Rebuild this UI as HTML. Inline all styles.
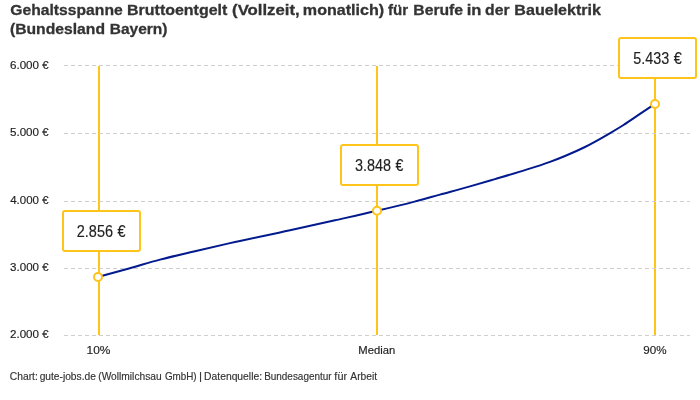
<!DOCTYPE html>
<html lang="de"><head><meta charset="utf-8"><title>Gehaltsspanne Bauelektrik Bayern</title>
<style>
html,body{margin:0;padding:0;background:#fff;}
body{width:700px;height:400px;overflow:hidden;font-family:"Liberation Sans",sans-serif;}
svg{display:block;font-family:"Liberation Sans",sans-serif;}
</style></head><body>
<svg width="700" height="400" viewBox="0 0 700 400">
<rect width="700" height="400" fill="#ffffff"/>
<line x1="99" x2="99" y1="66" y2="335" stroke="#ffc41a" stroke-width="2"/>
<line x1="377" x2="377" y1="66" y2="335" stroke="#ffc41a" stroke-width="2"/>
<line x1="655" x2="655" y1="66" y2="335" stroke="#ffc41a" stroke-width="2"/>
<line x1="64" x2="690" y1="65.5" y2="65.5" stroke="#cfcfcf" stroke-width="1" stroke-dasharray="4 3" shape-rendering="crispEdges"/>
<line x1="64" x2="690" y1="133.5" y2="133.5" stroke="#cfcfcf" stroke-width="1" stroke-dasharray="4 3" shape-rendering="crispEdges"/>
<line x1="64" x2="690" y1="201.5" y2="201.5" stroke="#cfcfcf" stroke-width="1" stroke-dasharray="4 3" shape-rendering="crispEdges"/>
<line x1="64" x2="690" y1="268.5" y2="268.5" stroke="#cfcfcf" stroke-width="1" stroke-dasharray="4 3" shape-rendering="crispEdges"/>
<line x1="64" x2="690" y1="335.5" y2="335.5" stroke="#cfcfcf" stroke-width="1" stroke-dasharray="4 3" shape-rendering="crispEdges"/>
<path d="M98.00,277.00C108.33,274.17 118.67,271.40 129.00,268.50C139.33,265.60 149.67,262.34 160.00,259.60C171.67,256.51 183.33,253.94 195.00,251.20C206.67,248.46 218.33,245.77 230.00,243.15C250.00,238.67 270.00,234.68 290.00,230.30C305.00,227.02 320.00,223.66 335.00,220.30C349.00,217.16 363.00,214.11 377.00,210.80C389.50,207.85 402.00,204.88 414.50,201.60C423.00,199.37 431.50,196.93 440.00,194.60C450.00,191.86 460.00,189.24 470.00,186.40C478.33,184.04 486.67,181.57 495.00,179.10C503.33,176.63 511.67,174.19 520.00,171.60C530.00,168.49 540.00,165.60 550.00,161.90C555.00,160.05 560.00,158.09 565.00,156.00C571.67,153.22 578.33,150.31 585.00,147.00C593.10,142.98 601.20,138.34 609.30,133.60C614.03,130.83 618.77,128.01 623.50,125.00C629.00,121.50 634.50,117.57 640.00,113.90C645.00,110.56 650.00,107.27 655.00,103.95" fill="none" stroke="#021a8e" stroke-width="2" stroke-linecap="butt" stroke-linejoin="round"/>
<circle cx="98" cy="277" r="4" fill="#fff" stroke="#ffc41a" stroke-width="2"/>
<circle cx="377" cy="210.8" r="4" fill="#fff" stroke="#ffc41a" stroke-width="2"/>
<circle cx="655" cy="103.95" r="4" fill="#fff" stroke="#ffc41a" stroke-width="2"/>
<rect x="63" y="211" width="77" height="40" rx="2" fill="#fff" stroke="#ffc41a" stroke-width="2"/>
<rect x="341" y="145" width="77" height="40" rx="2" fill="#fff" stroke="#ffc41a" stroke-width="2"/>
<rect x="619" y="38" width="77" height="40" rx="2" fill="#fff" stroke="#ffc41a" stroke-width="2"/>
<text y="14.6" font-size="15.4" font-weight="700" fill="#333333" stroke="#333333" stroke-width="0.3"><tspan x="10.26" textLength="112.44" lengthAdjust="spacingAndGlyphs">Gehaltsspanne</tspan> <tspan x="127.06" textLength="100.28" lengthAdjust="spacingAndGlyphs">Bruttoentgelt</tspan> <tspan x="232.08" textLength="67.62" lengthAdjust="spacingAndGlyphs">(Vollzeit,</tspan> <tspan x="302.86" textLength="81.29" lengthAdjust="spacingAndGlyphs">monatlich)</tspan> <tspan x="388.06" textLength="20.12" lengthAdjust="spacingAndGlyphs">für</tspan> <tspan x="413.28" textLength="49.83" lengthAdjust="spacingAndGlyphs">Berufe</tspan> <tspan x="466.69" textLength="14.72" lengthAdjust="spacingAndGlyphs">in</tspan> <tspan x="485.06" textLength="24.45" lengthAdjust="spacingAndGlyphs">der</tspan> <tspan x="514.36" textLength="86.63" lengthAdjust="spacingAndGlyphs">Bauelektrik</tspan></text>
<text y="33.6" font-size="15.4" font-weight="700" fill="#333333" stroke="#333333" stroke-width="0.3"><tspan x="9.94" textLength="95.04" lengthAdjust="spacingAndGlyphs">(Bundesland</tspan> <tspan x="109.69" textLength="57.83" lengthAdjust="spacingAndGlyphs">Bayern)</tspan></text>
<text y="69.2" font-size="10.8" fill="#222222" stroke="#222222" stroke-width="0.15"><tspan x="9.96" textLength="29.07" lengthAdjust="spacingAndGlyphs">6.000</tspan> <tspan x="42.27" textLength="6.38" lengthAdjust="spacingAndGlyphs">€</tspan></text>
<text y="136.3" font-size="10.8" fill="#222222" stroke="#222222" stroke-width="0.15"><tspan x="9.96" textLength="29.07" lengthAdjust="spacingAndGlyphs">5.000</tspan> <tspan x="42.27" textLength="6.38" lengthAdjust="spacingAndGlyphs">€</tspan></text>
<text y="204.2" font-size="10.8" fill="#222222" stroke="#222222" stroke-width="0.15"><tspan x="10.23" textLength="28.80" lengthAdjust="spacingAndGlyphs">4.000</tspan> <tspan x="42.27" textLength="6.38" lengthAdjust="spacingAndGlyphs">€</tspan></text>
<text y="271.2" font-size="10.8" fill="#222222" stroke="#222222" stroke-width="0.15"><tspan x="10.10" textLength="28.94" lengthAdjust="spacingAndGlyphs">3.000</tspan> <tspan x="42.27" textLength="6.38" lengthAdjust="spacingAndGlyphs">€</tspan></text>
<text y="338.2" font-size="10.8" fill="#222222" stroke="#222222" stroke-width="0.15"><tspan x="9.96" textLength="29.07" lengthAdjust="spacingAndGlyphs">2.000</tspan> <tspan x="42.27" textLength="6.38" lengthAdjust="spacingAndGlyphs">€</tspan></text>
<text y="236.9" font-size="16" fill="#222222" stroke="#222222" stroke-width="0.15"><tspan x="76.82" textLength="36.18" lengthAdjust="spacingAndGlyphs">2.856</tspan> <tspan x="117.39" textLength="8.07" lengthAdjust="spacingAndGlyphs">€</tspan></text>
<text y="170.9" font-size="16" fill="#222222" stroke="#222222" stroke-width="0.15"><tspan x="354.94" textLength="36.07" lengthAdjust="spacingAndGlyphs">3.848</tspan> <tspan x="395.39" textLength="7.86" lengthAdjust="spacingAndGlyphs">€</tspan></text>
<text y="63.9" font-size="16" fill="#222222" stroke="#222222" stroke-width="0.15"><tspan x="633.24" textLength="35.96" lengthAdjust="spacingAndGlyphs">5.433</tspan> <tspan x="673.69" textLength="8.07" lengthAdjust="spacingAndGlyphs">€</tspan></text>
<text y="353.9" font-size="10.8" fill="#222222" stroke="#222222" stroke-width="0.15"><tspan x="86.53" textLength="23.88" lengthAdjust="spacingAndGlyphs">10%</tspan> <tspan x="358.29" textLength="36.91" lengthAdjust="spacingAndGlyphs">Median</tspan> <tspan x="643.26" textLength="23.34" lengthAdjust="spacingAndGlyphs">90%</tspan></text>
<text y="379.7" font-size="10.3" fill="#333333" stroke="#333333" stroke-width="0.15"><tspan x="9.80" textLength="28.02" lengthAdjust="spacingAndGlyphs">Chart:</tspan> <tspan x="39.63" textLength="56.21" lengthAdjust="spacingAndGlyphs">gute-jobs.de</tspan> <tspan x="98.28" textLength="63.37" lengthAdjust="spacingAndGlyphs">(Wollmilchsau</tspan> <tspan x="164.92" textLength="31.74" lengthAdjust="spacingAndGlyphs">GmbH)</tspan> <tspan x="199.00" textLength="3.07" lengthAdjust="spacingAndGlyphs">|</tspan> <tspan x="204.12" textLength="57.93" lengthAdjust="spacingAndGlyphs">Datenquelle:</tspan> <tspan x="264.15" textLength="67.47" lengthAdjust="spacingAndGlyphs">Bundesagentur</tspan> <tspan x="334.37" textLength="12.70" lengthAdjust="spacingAndGlyphs">für</tspan> <tspan x="350.30" textLength="26.83" lengthAdjust="spacingAndGlyphs">Arbeit</tspan></text>
</svg>
</body></html>
